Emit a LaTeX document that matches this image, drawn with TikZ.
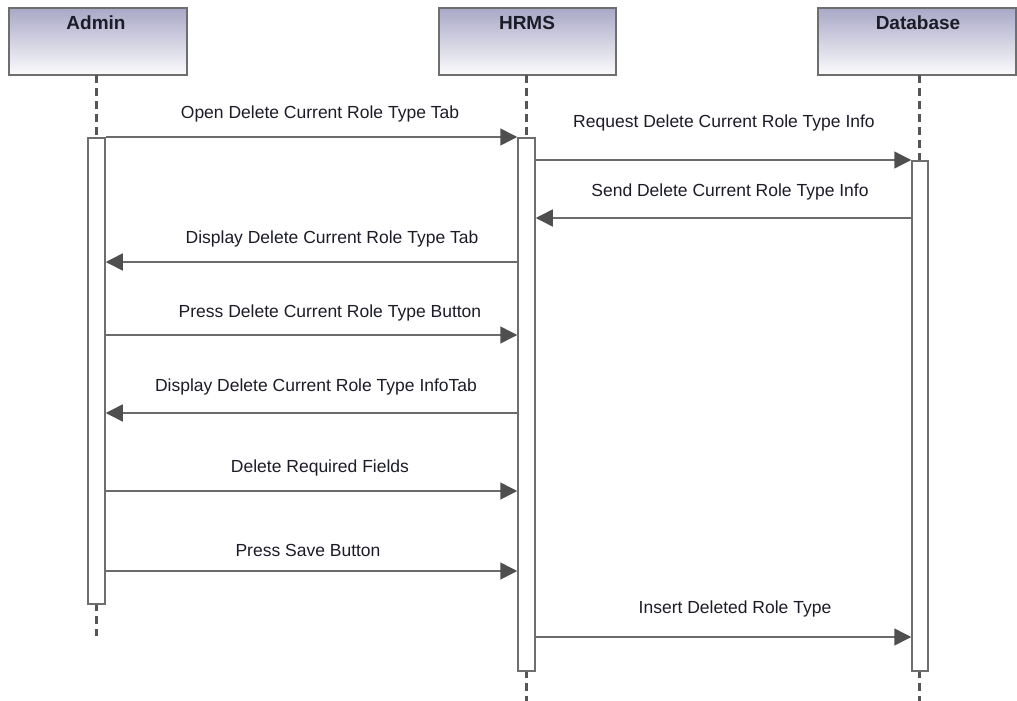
\documentclass[tikz,border=0pt]{standalone}
\usepackage{fontspec}
\setmainfont{Liberation Sans}
\usetikzlibrary{arrows.meta}

\definecolor{headtop}{HTML}{A9A8C7}
\definecolor{boxline}{HTML}{6E6E6E}
\definecolor{msgline}{HTML}{6B6B6B}
\definecolor{tipfill}{HTML}{4F4F4F}
\definecolor{lifeline}{HTML}{555555}
\definecolor{txtcol}{HTML}{1C1C28}

\tikzset{
  headbox/.style={draw=boxline, line width=1.5pt, top color=headtop, bottom color=white!96!headtop},
  headtxt/.style={anchor=base, inner sep=0pt, text=txtcol, font=\fontsize{19}{22}\selectfont\bfseries},
  actbar/.style={draw=boxline, line width=1.5pt, fill=white, anchor=north, minimum width=17pt, inner sep=0pt},
  lifedash/.style={draw=lifeline, line width=3pt, dash pattern=on 8pt off 5pt},
  msg/.style={draw=msgline, line width=1.5pt, -{Triangle[length=17pt,width=17pt,fill=tipfill,color=tipfill]}, shorten >=0pt},
  msgtxt/.style={anchor=base, inner sep=0pt, text=txtcol, font=\fontsize{17.5}{20}\selectfont}
}

\begin{document}
\begin{tikzpicture}[x=1pt,y=-1pt]
    \useasboundingbox (0,0) rectangle (1017,701);

    % heads
    \draw[headbox] (9,8) rectangle (187,75);
    \draw[headbox] (439,8) rectangle (616,75);
    \draw[headbox] (818,8) rectangle (1016.2,75);
    \node[headtxt] (adminhd) at (96,30) {Admin};
    \node[headtxt] (hrmshd) at (527,30) {HRMS};
    \node[headtxt] (dbhd) at (918,30) {Database};

    % lifelines
    \draw[lifedash] (96,75) -- (96,137);
    \draw[lifedash] (96,603) -- (96,636);
    \draw[lifedash] (526,75) -- (526,137);
    \draw[lifedash] (526,670) -- (526,701);
    \draw[lifedash] (919,75) -- (919,160);
    \draw[lifedash] (919,670) -- (919,701);

    % activation bars
    \node[actbar, minimum height=466pt] (adminbar) at (96.5,137) {};
    \node[actbar, minimum height=533pt] (hrmsbar) at (526.5,137) {};
    \node[actbar, minimum height=510pt, minimum width=16pt] (dbbar) at (920,160) {};

    % messages
    \foreach \yy/\src/\dst/\lx/\ly/\txt [count=\i] in {
        137/adminbar.east/hrmsbar.west/320/118/Open Delete Current Role Type Tab,
        160/hrmsbar.east/dbbar.west/724/127/Request Delete Current Role Type Info,
        218/dbbar.west/hrmsbar.east/730/196/Send Delete Current Role Type Info,
        262/hrmsbar.west/adminbar.east/332/243/Display Delete Current Role Type Tab,
        335/adminbar.east/hrmsbar.west/330/317/Press Delete Current Role Type Button,
        413/hrmsbar.west/adminbar.east/316/391/Display Delete Current Role Type InfoTab,
        491/adminbar.east/hrmsbar.west/320/472/Delete Required Fields,
        571/adminbar.east/hrmsbar.west/308/556/Press Save Button,
        637/hrmsbar.east/dbbar.west/735/613/Insert Deleted Role Type}{
        \draw[msg] (\src |- 0,\yy) -- (\dst |- 0,\yy);
        \node[msgtxt] (lbl\i) at (\lx,\ly) {\txt};
    }
\end{tikzpicture}
\end{document}
